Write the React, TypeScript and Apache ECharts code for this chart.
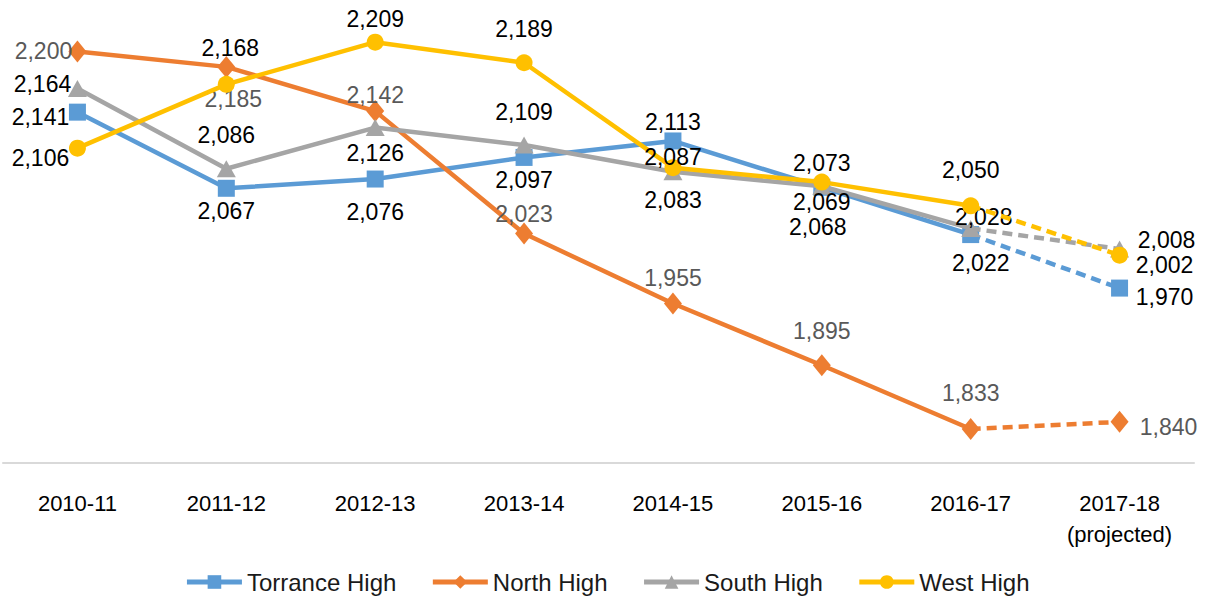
import React, { useEffect, useRef } from "react";
import * as echarts from "echarts";

const categories = ["2010-11", "2011-12", "2012-13", "2013-14", "2014-15", "2015-16", "2016-17", "2017-18\n(projected)"];
const seriesNames = ["Torrance High", "North High", "South High", "West High"];
const torrance = [2141, 2067, 2076, 2097, 2113, 2068, 2022, 1970];
const north = [2200, 2185, 2142, 2023, 1955, 1895, 1833, 1840];
const south = [2164, 2086, 2126, 2109, 2083, 2069, 2028, 2008];
const west = [2106, 2168, 2209, 2189, 2087, 2073, 2050, 2002];

const colors = ["#5B9BD5", "#ED7D31", "#A5A5A5", "#FFC000"];
const labelColors = ["#000000", "#595959", "#000000", "#000000"];
const symbols = ["rect", "diamond", "triangle", "circle"];
const symbolSizes: any[] = [17, [18, 22], [19, 17], 17];

// label offsets (style): label center relative to point
const labelOffsets: number[][][] = [
  [[-37, 5], [0, 23], [0, 33], [0, 23], [0, -19], [-4, 40], [10, 28], [45, 9]],
  [[-34, 0], [7, 32], [0, -16], [0, -20], [0, -26], [0, -34], [0, -36], [49, 5]],
  [[-35, -4], [0, -34], [0, 25], [0, -33], [0, 28], [0, 16], [13, -11], [47, -9]],
  [[-37, 10], [4, -36], [0, -23], [0, -34], [0, -11], [0, -19], [0, -36], [45, 10]],
];

const FONT = "'Liberation Sans', Arial, sans-serif";

export default function App() {
  const ref = useRef<HTMLDivElement>(null);
  useEffect(() => {
    document.body.style.margin = "0";
    const chart = echarts.init(ref.current!, null, { renderer: "svg" });
    const all = [torrance, north, south, west];
    const series: any[] = [];
    all.forEach((vals, si) => {
      const fmt = (v: number) => v.toLocaleString("en-US");
      const mkLabel = (i: number) => ({
        show: true,
        position: "inside",
        offset: labelOffsets[si][i],
        color: labelColors[si],
        fontSize: 23,
        fontFamily: FONT,
        formatter: (p: any) => fmt(p.value),
      });
      const solid = vals.map((v, i) => (i < vals.length - 1 ? { value: v, label: mkLabel(i) } : null));
      series.push({
        name: seriesNames[si],
        type: "line",
        data: solid,
        symbol: symbols[si],
        symbolSize: symbolSizes[si],
        lineStyle: { color: colors[si], width: 4.5 },
        itemStyle: { color: colors[si] },
        z: 2 + si,
      });
      const last = vals.length - 1;
      const dashed = vals.map((v, i) => {
        if (i === last) return { value: v, label: mkLabel(i) };
        if (i === last - 1) return { value: v, symbol: "none", label: { show: false } };
        return null;
      });
      series.push({
        name: seriesNames[si],
        type: "line",
        data: dashed,
        symbol: symbols[si],
        symbolSize: symbolSizes[si],
        lineStyle: { color: colors[si], width: 4.5, type: [10, 6] },
        itemStyle: { color: colors[si] },
        z: 2 + si,
      });
    });

    chart.setOption({
      animation: false,
      color: colors,
      grid: { left: 3, right: 20, top: 0, bottom: 140, containLabel: false },
      xAxis: {
        type: "category",
        data: categories,
        boundaryGap: true,
        axisLine: { lineStyle: { color: "#D9D9D9", width: 2 } },
        axisTick: { show: false },
        axisLabel: {
          color: "#000000",
          fontSize: 22,
          fontFamily: FONT,
          margin: 25,
          lineHeight: 31,
          interval: 0,
        },
      },
      yAxis: {
        type: "value",
        min: 1800,
        max: 2250,
        show: false,
        splitLine: { show: false },
      },
      legend: {
        data: seriesNames,
        bottom: 4,
        left: "center",
        itemWidth: 55,
        itemHeight: 17,
        itemGap: 34,
        lineStyle: { width: 5 },
        textStyle: { color: "#1a1a1a", fontSize: 24, fontFamily: FONT },
      },
      series,
    });
    return () => chart.dispose();
  }, []);
  return <div ref={ref} style={{ width: 1214, height: 603 }} />;
}
